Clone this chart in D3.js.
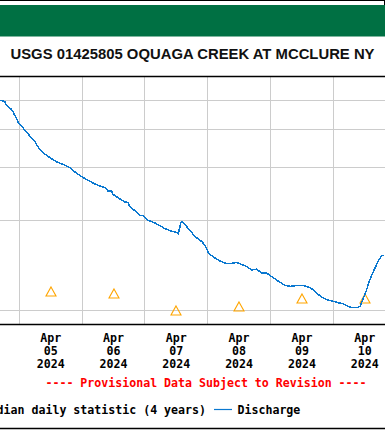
<!DOCTYPE html>
<html>
<head>
<meta charset="utf-8">
<script src="https://cdn.jsdelivr.net/npm/d3@7"></script>
<style>
  body { margin: 0; background: #fff; }
  svg { display: block; }
</style>
</head>
<body>
<div id="visualization"></div>
<script>
var stationTitle = "USGS 01425805 OQUAGA CREEK AT MCCLURE NY";
var provisionalNote = "---- Provisional Data Subject to Revision ----";
var legendLabels = ["Median daily statistic (4 years)", "Discharge"];

// discharge, cubic feet per second
var flowTimes = [
  "2024-04-04T16:30","2024-04-04T17:15","2024-04-04T18:30","2024-04-04T19:00","2024-04-04T19:45",
  "2024-04-04T20:45","2024-04-04T21:30","2024-04-04T22:15","2024-04-04T23:00","2024-04-04T23:30",
  "2024-04-05T00:15","2024-04-05T01:15","2024-04-05T02:00","2024-04-05T03:15","2024-04-05T04:45",
  "2024-04-05T06:00","2024-04-05T06:45","2024-04-05T07:45","2024-04-05T09:00","2024-04-05T10:30",
  "2024-04-05T11:45","2024-04-05T13:00","2024-04-05T14:15","2024-04-05T15:30","2024-04-05T17:30",
  "2024-04-05T19:15","2024-04-05T21:15","2024-04-05T23:00","2024-04-06T01:00","2024-04-06T03:00",
  "2024-04-06T04:45","2024-04-06T06:45","2024-04-06T09:15","2024-04-06T10:00","2024-04-06T11:15",
  "2024-04-06T11:45","2024-04-06T13:15","2024-04-06T14:30","2024-04-06T16:15","2024-04-06T17:30",
  "2024-04-06T18:15","2024-04-06T19:30","2024-04-06T20:45","2024-04-06T22:00","2024-04-06T23:15",
  "2024-04-07T00:15","2024-04-07T01:15","2024-04-07T02:30","2024-04-07T03:45","2024-04-07T05:45",
  "2024-04-07T07:30","2024-04-07T09:30","2024-04-07T11:15","2024-04-07T12:30","2024-04-07T12:45",
  "2024-04-07T13:15","2024-04-07T13:45","2024-04-07T14:15","2024-04-07T15:15","2024-04-07T16:30",
  "2024-04-07T17:45","2024-04-07T19:00","2024-04-07T20:15","2024-04-07T21:45","2024-04-07T22:45",
  "2024-04-07T23:30","2024-04-08T00:15","2024-04-08T00:45","2024-04-08T02:00","2024-04-08T03:15",
  "2024-04-08T05:15","2024-04-08T07:15","2024-04-08T09:00","2024-04-08T11:00","2024-04-08T13:00",
  "2024-04-08T14:45","2024-04-08T16:45","2024-04-08T18:45","2024-04-08T20:30","2024-04-08T22:30",
  "2024-04-09T00:00","2024-04-09T01:45","2024-04-09T03:30","2024-04-09T05:30","2024-04-09T07:30",
  "2024-04-09T10:30","2024-04-09T12:30","2024-04-09T13:45","2024-04-09T15:00","2024-04-09T16:15",
  "2024-04-09T17:30","2024-04-09T18:45","2024-04-09T20:00","2024-04-09T22:00","2024-04-10T00:00",
  "2024-04-10T01:45","2024-04-10T03:45","2024-04-10T05:45","2024-04-10T07:15","2024-04-10T09:00",
  "2024-04-10T10:15","2024-04-10T11:00","2024-04-10T11:45","2024-04-10T12:45","2024-04-10T13:30",
  "2024-04-10T14:15","2024-04-10T15:15","2024-04-10T16:15","2024-04-10T17:00","2024-04-10T18:30",
  "2024-04-10T19:30"
];
var flowCfs = [
  498, 498, 492, 482, 473, 467, 458, 444, 433, 422,
  413, 406, 396, 386, 373, 364, 353, 343, 334, 327,
  321, 316, 311, 308, 303, 298, 288, 281, 274, 268,
  263, 259, 254, 248, 250, 243, 238, 234, 229, 228,
  221, 216, 213, 207, 206, 202, 199, 197, 195, 191,
  187, 184, 182, 181, 180, 187, 195, 197, 193, 187,
  182, 176, 173, 169, 165, 161, 155, 153, 151, 148,
  145, 143, 143, 144, 142, 140, 136, 137, 133, 133,
  130, 127, 124, 121, 120, 121, 121, 120, 119, 117,
  114, 112, 110, 108, 107, 106, 105, 103, 102, 102,
  103, 107, 111, 117, 123, 128, 134, 140, 145, 152,
  152
];

// median daily statistic, plotted at noon
var medianDays = ["2024-04-05", "2024-04-06", "2024-04-07", "2024-04-08", "2024-04-09", "2024-04-10"];
var medianCfs = [116, 114, 100, 103, 110, 110];

var tickDays = ["2024-04-05", "2024-04-06", "2024-04-07", "2024-04-08", "2024-04-09", "2024-04-10"];
var gridCfs = [100, 200, 300, 400, 500];

var width = 385, height = 430;
var plotTop = 76, plotBottom = 324;
var monoFont = "'DejaVu Sans Mono', 'Liberation Mono', monospace";

var parseTime = d3.timeParse("%Y-%m-%dT%H:%M");
var parseDay = d3.timeParse("%Y-%m-%d");

var x = d3.scaleTime()
    .domain([parseDay("2024-04-05"), parseDay("2024-04-10")])
    .range([19.3, 333.3]);

var y = d3.scaleLog()
    .domain([90, 600])
    .range([plotBottom, plotTop]);

var flow = flowTimes.map(function(t, i){ return { date: parseTime(t), value: flowCfs[i] }; });
var medians = medianDays.map(function(d, i){ return { date: d3.timeHour.offset(parseDay(d), 12), value: medianCfs[i] }; });

var svg = d3.select("#visualization")
  .append("svg")
    .attr("width", width)
    .attr("height", height);

/* ------- HEADER ------- */
svg.append("line")
    .attr("x1", 0).attr("x2", width)
    .attr("y1", 0.5).attr("y2", 0.5)
    .style("stroke", "#000");
svg.append("line")
    .attr("x1", 384.5).attr("x2", 384.5)
    .attr("y1", 0).attr("y2", 5)
    .style("stroke", "#000");
svg.append("rect")
    .attr("x", 0).attr("y", 5)
    .attr("width", width).attr("height", 31.5)
    .style("fill", "#007043");

svg.append("text")
    .attr("x", 192.5)
    .attr("y", 59)
    .attr("text-anchor", "middle")
    .attr("textLength", 364)
    .attr("lengthAdjust", "spacingAndGlyphs")
    .style("font-family", "'Liberation Sans', Arial, sans-serif")
    .style("font-weight", "bold")
    .style("font-size", "15px")
    .style("fill", "#111")
    .text(stationTitle);

/* ------- GRID ------- */
var grid = svg.append("g").attr("class", "grid")
    .style("stroke", "#cccccc")
    .style("stroke-width", 1)
    .style("shape-rendering", "crispEdges");

grid.selectAll("line.h")
    .data(gridCfs)
  .enter().append("line")
    .attr("class", "h")
    .attr("x1", 0).attr("x2", width)
    .attr("y1", function(d){ return Math.round(y(d)) + 0.5; })
    .attr("y2", function(d){ return Math.round(y(d)) + 0.5; });

grid.selectAll("line.v")
    .data(tickDays.map(parseDay))
  .enter().append("line")
    .attr("class", "v")
    .attr("y1", plotTop).attr("y2", plotBottom)
    .attr("x1", function(d){ return Math.floor(x(d)) + 0.5; })
    .attr("x2", function(d){ return Math.floor(x(d)) + 0.5; });

/* ------- MEDIAN TRIANGLES ------- */
var triangle = "M0,-4.5L5,4.5L-5,4.5Z";
svg.append("g").selectAll("path")
    .data(medians)
  .enter().append("path")
    .attr("d", triangle)
    .attr("transform", function(d){ return "translate(" + Math.round(x(d.date)) + "," + (Math.round(y(d.value)) + 0.5) + ")"; })
    .style("fill", "none")
    .style("stroke", "#ffa500")
    .style("stroke-width", 1.1);

/* ------- DISCHARGE LINE ------- */
var line = d3.line()
    .x(function(d){ return x(d.date); })
    .y(function(d){ return y(d.value); });

svg.append("path")
    .datum(flow)
    .attr("d", line)
    .style("fill", "none")
    .style("stroke", "#0a78d0")
    .style("stroke-width", 1.5)
    .style("shape-rendering", "crispEdges");

/* ------- PLOT FRAME ------- */
svg.selectAll("line.frame")
    .data([plotTop, plotBottom, 428])
  .enter().append("line")
    .attr("class", "frame")
    .attr("x1", 0).attr("x2", width)
    .attr("y1", function(d){ return d + 0.5; })
    .attr("y2", function(d){ return d + 0.5; })
    .style("stroke", "#000")
    .style("stroke-width", 1.4);

/* ------- X AXIS LABELS ------- */
var rows = [d3.timeFormat("%b"), d3.timeFormat("%d"), d3.timeFormat("%Y")];
var labels = svg.append("g").selectAll("text")
    .data(tickDays.map(parseDay))
  .enter().append("text")
    .attr("text-anchor", "middle")
    .style("font-family", monoFont)
    .style("font-weight", "bold")
    .style("font-size", "11.6px")
    .style("fill", "#000");

labels.each(function(d){
    var el = d3.select(this);
    var cx = x(d3.timeHour.offset(d, 12));
    rows.forEach(function(fmt, i){
        el.append("tspan")
            .attr("x", cx)
            .attr("y", 342 + i * 13)
            .text(fmt(d));
    });
});

/* ------- PROVISIONAL NOTE ------- */
svg.append("text")
    .attr("x", 206)
    .attr("y", 387)
    .attr("text-anchor", "middle")
    .style("font-family", monoFont)
    .style("font-weight", "bold")
    .style("font-size", "11.6px")
    .style("fill", "#ff0000")
    .text(provisionalNote);

/* ------- LEGEND ------- */
svg.append("text")
    .attr("x", 206)
    .attr("y", 414)
    .attr("text-anchor", "end")
    .style("font-family", monoFont)
    .style("font-weight", "bold")
    .style("font-size", "11.6px")
    .style("fill", "#000")
    .text(legendLabels[0]);

svg.append("line")
    .attr("x1", 214).attr("x2", 232)
    .attr("y1", 409.5).attr("y2", 409.5)
    .style("stroke", "#0a78d0")
    .style("stroke-width", 1.2);

svg.append("text")
    .attr("x", 237.5)
    .attr("y", 414)
    .style("font-family", monoFont)
    .style("font-weight", "bold")
    .style("font-size", "11.6px")
    .style("fill", "#000")
    .text(legendLabels[1]);
</script>
</body>
</html>
